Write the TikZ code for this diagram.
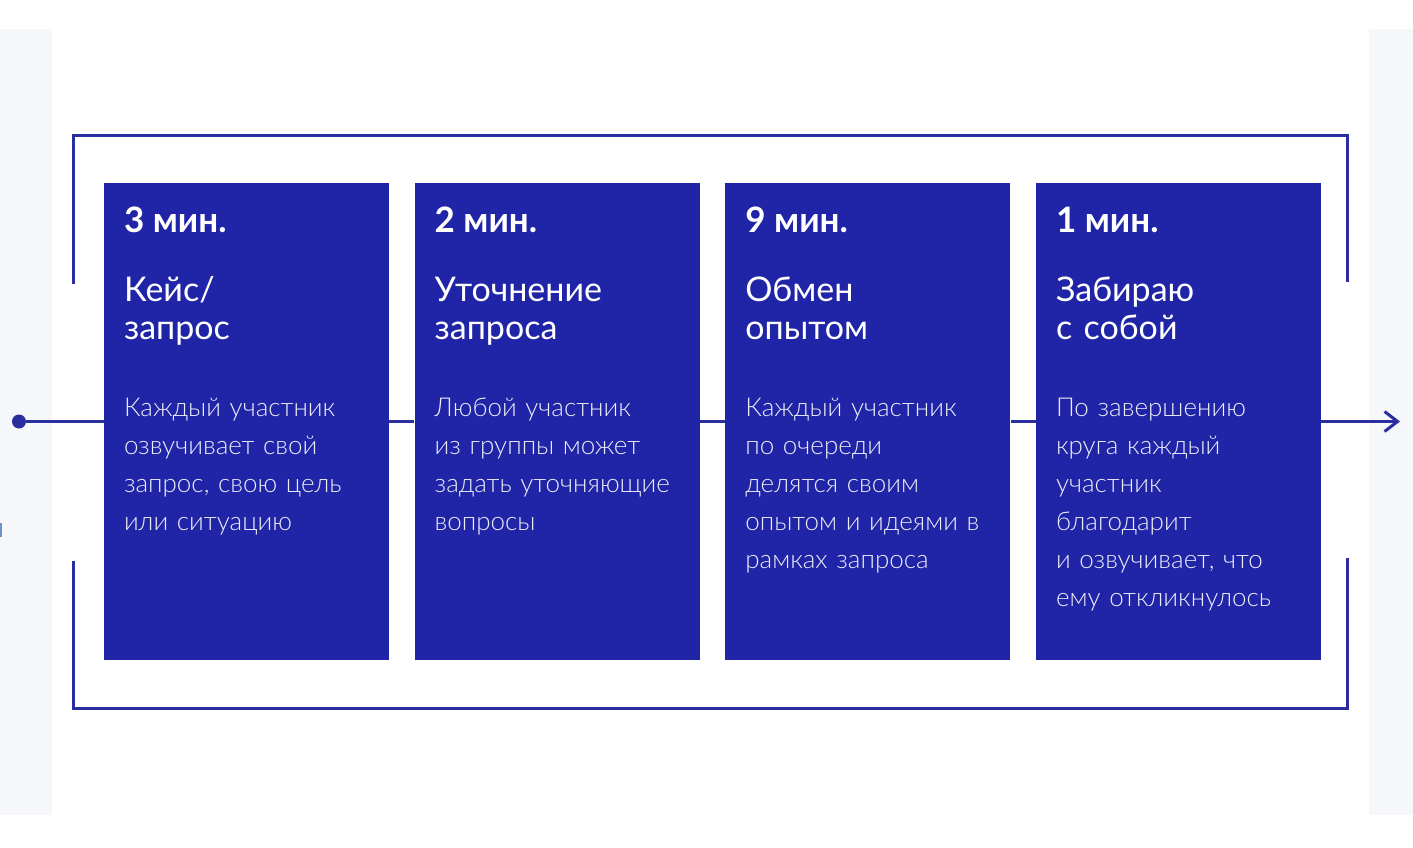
\documentclass[tikz,border=0pt]{standalone}
\usepackage{fontspec}
\setmainfont{Lato}
\newfontfamily\lightfont{Lato Light}
\usetikzlibrary{calc,arrows.meta,positioning}
\definecolor{boxblue}{HTML}{2024A6}
\definecolor{lineblue}{HTML}{2A2E9E}
\definecolor{stripgray}{HTML}{F5F7FB}
\definecolor{tickblue}{HTML}{6D93C4}
\definecolor{bodywhite}{HTML}{ECEDF8}

\begin{document}
\begin{tikzpicture}[x=1pt,y=-1pt,
    stagebox/.style={fill=boxblue,minimum width=285pt,minimum height=477pt,inner sep=0pt},
    flow/.style={draw=lineblue,line width=3pt},
    timelbl/.style={anchor=base west,text=white,inner sep=0pt,font=\fontsize{35}{38}\selectfont\bfseries},
    titlelbl/.style={anchor=base west,text=white,inner sep=0pt,align=left,text width=260pt,font=\fontsize{34}{38}\selectfont},
    bodylbl/.style={anchor=base west,text=bodywhite,inner sep=0pt,align=left,text width=260pt,font=\fontsize{26}{38}\selectfont\lightfont}]
    \useasboundingbox (0,0) rectangle (1413,848);
    \fill[stripgray] (0,29) rectangle (52,815);
    \fill[stripgray] (1369,29) rectangle (1413,815);
    \draw[tickblue,line width=2pt] (1,523) -- (1,537);

    % frame
    \draw[flow] (73,284) |- (1347,136) -- (1347,282);
    \draw[flow] (73,561) |- (1347,708) -- (1347,558);

    \foreach \i/\t/\h/\b in {
      {1/3 мин./Кейс\slash\\запрос/{Каждый участник\\озвучивает свой\\запрос, свою цель\\или ситуацию}},
      {2/2 мин./Уточнение\\запроса/{Любой участник\\из группы может\\задать уточняющие\\вопросы}},
      {3/9 мин./Обмен\\опытом/{Каждый участник\\по очереди\\делятся своим\\опытом и идеями в\\рамках запроса}},
      {4/1 мин./Забираю\\с собой/{По завершению\\круга каждый\\участник\\благодарит\\и озвучивает, что\\ему откликнулось}}} {
      \node[stagebox] (box\i) at (246.5+310.67*\i-310.67,421.5) {};
      \node[timelbl] (time\i) at ($(box\i.north west)+(20,50)$) {\t};
      \node[titlelbl] (title\i) at ($(box\i.north west)+(20,119)$) {\h};
      \node[bodylbl] (text\i) at ($(box\i.north west)+(20,234)$) {\b};
    }

    \node[circle,fill=lineblue,inner sep=0pt,minimum size=14pt] (start) at (19,421.5) {};
    \coordinate (finish) at (1400,421.5);
    \draw[flow] (start) -- (box1);
    \foreach \i [evaluate=\i as \j using int(\i+1)] in {1,2,3} {
      \draw[flow] (box\i) -- (box\j);
    }
    \draw[flow,-{Straight Barb[length=13pt,width=20pt]}] (box4) -- (finish);
\end{tikzpicture}
\end{document}
